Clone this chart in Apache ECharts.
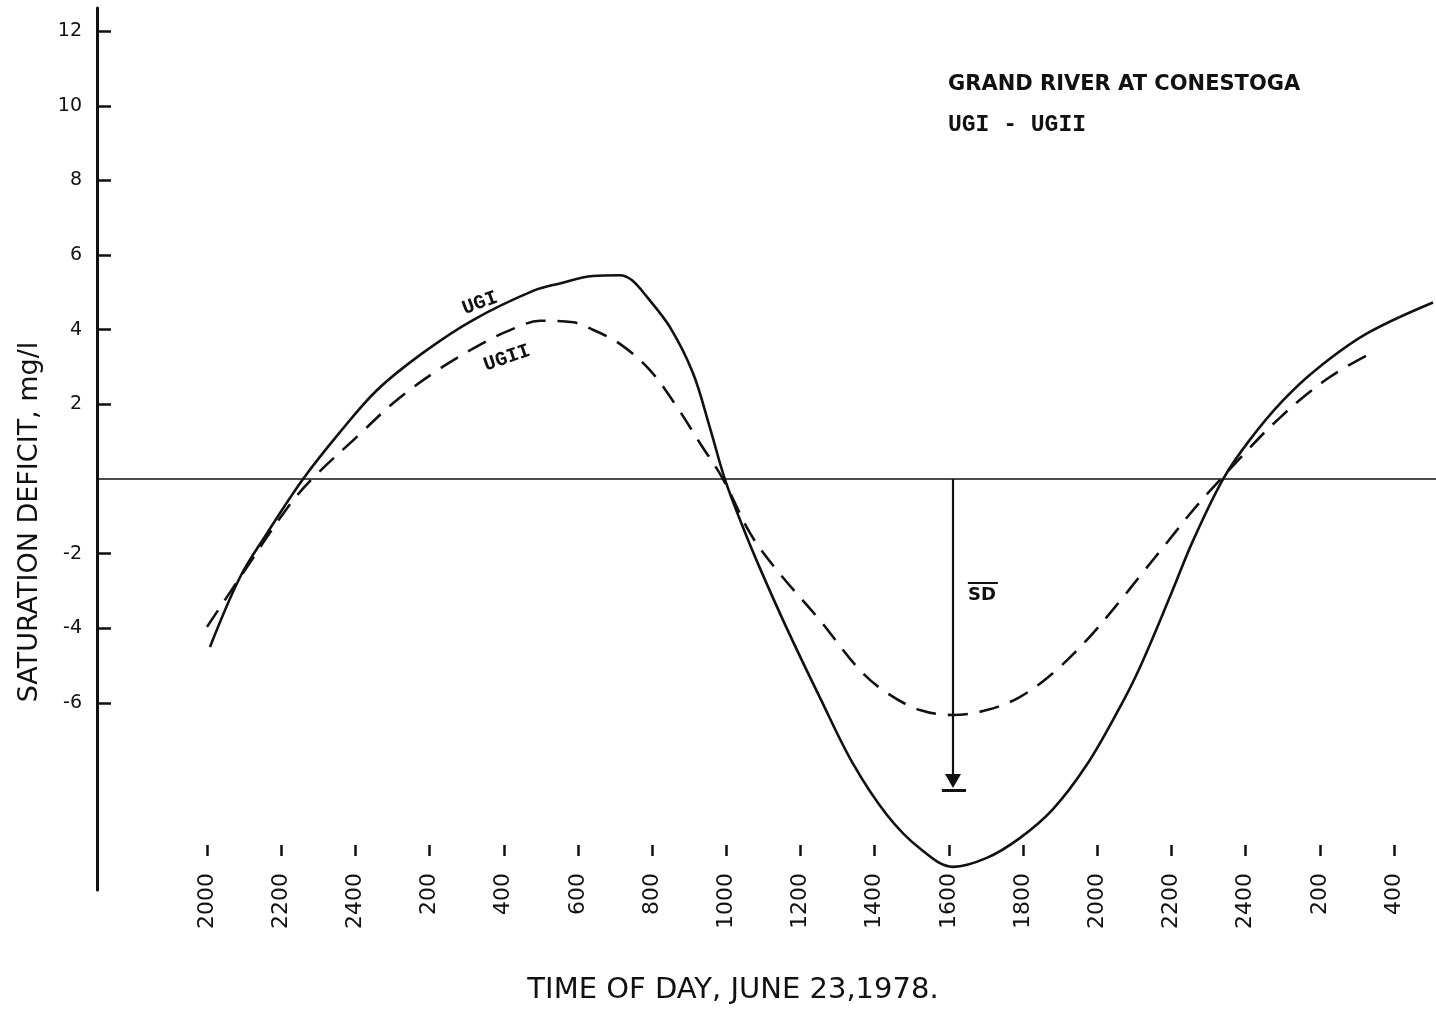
<!DOCTYPE html>
<html>
<head>
<meta charset="utf-8">
<script src="https://cdn.jsdelivr.net/npm/echarts@6/dist/echarts.min.js"></script>
<style>
  html, body { margin: 0; padding: 0; background: #ffffff; }
  #chart { width: 1436px; height: 1011px; }
</style>
</head>
<body>
<div id="chart"></div>
<script>
// X positions are hours counted from 2000 h on June 22 (tick every 2 hours)
const xTickHours = [0, 2, 4, 6, 8, 10, 12, 14, 16, 18, 20, 22, 24, 26, 28, 30, 32];
const xTickLabels = ['2000', '2200', '2400', '200', '400', '600', '800', '1000', '1200',
                     '1400', '1600', '1800', '2000', '2200', '2400', '200', '400'];
const yTickValues = [-6, -4, -2, 2, 4, 6, 8, 10, 12];

// UGI (solid curve)
const ugiHours  = [0.08, 0.89, 1.62, 2.59, 3.58, 4.58, 5.82, 7.17, 8.79, 9.51, 10.40, 11.13,
                   11.45, 11.86, 12.48, 13.10, 13.55, 13.96, 14.45, 14.91, 15.63, 16.52, 17.41,
                   18.33, 19.22, 20.11, 21.02, 21.91, 22.80, 23.72, 24.61, 25.15, 25.96, 26.58,
                   27.39, 28.11, 29.00, 29.92, 31.27, 33.05];
const ugiValues = [-4.50, -2.63, -1.45, 0.00, 1.25, 2.38, 3.38, 4.26, 5.04, 5.24, 5.44, 5.46,
                   5.33, 4.88, 4.07, 2.84, 1.40, 0.00, -1.30, -2.40, -4.00, -5.85, -7.62,
                   -9.00, -9.90, -10.39, -10.15, -9.62, -8.85, -7.65, -6.11, -5.04, -3.15, -1.65,
                   0.00, 1.05, 2.10, 2.95, 3.90, 4.73];

// UGII (dashed curve)
const ugiiHours  = [0.00, 0.97, 2.16, 2.83, 4.04, 5.12, 6.36, 7.44, 8.17, 8.98, 9.87, 10.40,
                    11.13, 11.94, 12.67, 13.29, 13.91, 14.64, 15.36, 16.52, 17.60, 18.33, 19.22,
                    20.11, 21.02, 21.91, 22.80, 23.72, 24.61, 25.15, 25.88, 26.50, 26.96, 28.38,
                    28.92, 29.46, 30.19, 30.73, 31.35];
const ugiiValues = [-3.96, -2.52, -0.78, 0.00, 1.13, 2.12, 3.01, 3.64, 3.99, 4.24, 4.20, 4.00,
                    3.62, 2.92, 1.93, 0.96, 0.00, -1.45, -2.44, -3.78, -5.12, -5.73, -6.19,
                    -6.32, -6.19, -5.84, -5.20, -4.31, -3.27, -2.60, -1.70, -0.93, -0.40, 1.12,
                    1.64, 2.12, 2.68, 3.02, 3.36];

// Mean saturation deficit arrow (at 1600 h)
const sdHour = 20.11;
const sdArrowEnd = -8.09;
const sdBarValue = -8.33;

const FONT = 'DejaVu Sans';
const INK = '#111111';

const zip = (xs, ys) => xs.map((x, i) => [x, ys[i]]);

const chart = echarts.init(document.getElementById('chart'), null, { renderer: 'canvas' });

chart.setOption({
  animation: false,
  backgroundColor: '#ffffff',
  grid: { left: 97, right: 0, top: 8, bottom: 121, containLabel: false },
  xAxis: {
    type: 'value',
    min: -2.965,
    max: 33.13,
    offset: -45,
    axisLine: { show: false, onZero: false },
    splitLine: { show: false },
    axisTick: {
      show: true, inside: false, length: 11,
      customValues: xTickHours,
      lineStyle: { color: INK, width: 2.5 }
    },
    axisLabel: {
      show: true, rotate: 90, margin: 28,
      customValues: xTickHours,
      formatter: v => xTickLabels[Math.round(v / 2)],
      fontFamily: FONT, fontSize: 22, color: INK
    }
  },
  yAxis: {
    type: 'value',
    min: -11.01,
    max: 12.62,
    axisLine: { show: true, onZero: false, lineStyle: { color: INK, width: 3 } },
    splitLine: { show: false },
    axisTick: {
      show: true, inside: true, length: 14,
      customValues: yTickValues,
      lineStyle: { color: INK, width: 2.5 }
    },
    axisLabel: {
      show: true, margin: 15,
      customValues: yTickValues,
      formatter: v => String(v),
      fontFamily: FONT, fontSize: 19, color: INK
    }
  },
  series: [
    {
      name: 'UGI',
      type: 'line',
      data: zip(ugiHours, ugiValues),
      smooth: 0.35,
      symbol: 'none',
      lineStyle: { color: INK, width: 2.6, type: 'solid' },
      markLine: {
        silent: true,
        symbol: ['none', 'none'],
        label: { show: false },
        lineStyle: { color: INK, type: 'solid', width: 1.6 },
        data: [
          { yAxis: 0, lineStyle: { width: 1.6 } },
          [
            { coord: [sdHour, 0], lineStyle: { width: 2.2 } },
            { coord: [sdHour, sdArrowEnd], symbol: 'triangle', symbolSize: [16, 14] }
          ],
          [
            { coord: [sdHour - 0.30, sdBarValue], lineStyle: { width: 3 } },
            { coord: [sdHour + 0.35, sdBarValue] }
          ],
          [
            { coord: [20.51, -2.79], lineStyle: { width: 2 } },
            { coord: [21.32, -2.79] }
          ]
        ]
      }
    },
    {
      name: 'UGII',
      type: 'line',
      data: zip(ugiiHours, ugiiValues),
      smooth: 0.35,
      symbol: 'none',
      lineStyle: { color: INK, width: 2.6, type: [20, 12] }
    },
    {
      name: 'labels',
      type: 'scatter',
      symbolSize: 0,
      silent: true,
      itemStyle: { opacity: 1 },
      label: {
        show: true, position: 'inside', color: INK, opacity: 1,
        textBorderWidth: 0, textShadowBlur: 0,
        fontFamily: 'Liberation Mono', fontWeight: 'bold', fontSize: 20,
        formatter: p => p.name
      },
      data: [
        { name: 'UGI', value: [7.36, 4.71], label: { rotate: 20 } },
        { name: 'UGII', value: [8.09, 3.24], label: { rotate: 19 } },
        { name: 'SD', value: [20.89, -3.11], label: { fontFamily: FONT, fontWeight: 'bold', fontSize: 18 } }
      ]
    }
  ],
  graphic: [
    {
      type: 'text', left: 948, top: 74,
      style: { text: 'GRAND RIVER AT CONESTOGA', font: 'bold 21px "DejaVu Sans"', fill: INK }
    },
    {
      type: 'text', left: 948, top: 114,
      style: { text: 'UGI - UGII', font: 'bold 23px "Liberation Mono"', fill: INK }
    },
    {
      type: 'text', x: 30, y: 522, rotation: Math.PI / 2,
      style: {
        text: 'SATURATION DEFICIT, mg/l', font: '27px "DejaVu Sans"', fill: INK,
        align: 'center', verticalAlign: 'middle'
      }
    },
    {
      type: 'text', x: 733, y: 990,
      style: {
        text: 'TIME OF DAY, JUNE 23,1978.', font: '29px "DejaVu Sans"', fill: INK,
        align: 'center', verticalAlign: 'middle'
      }
    }
  ]
});
</script>
</body>
</html>
